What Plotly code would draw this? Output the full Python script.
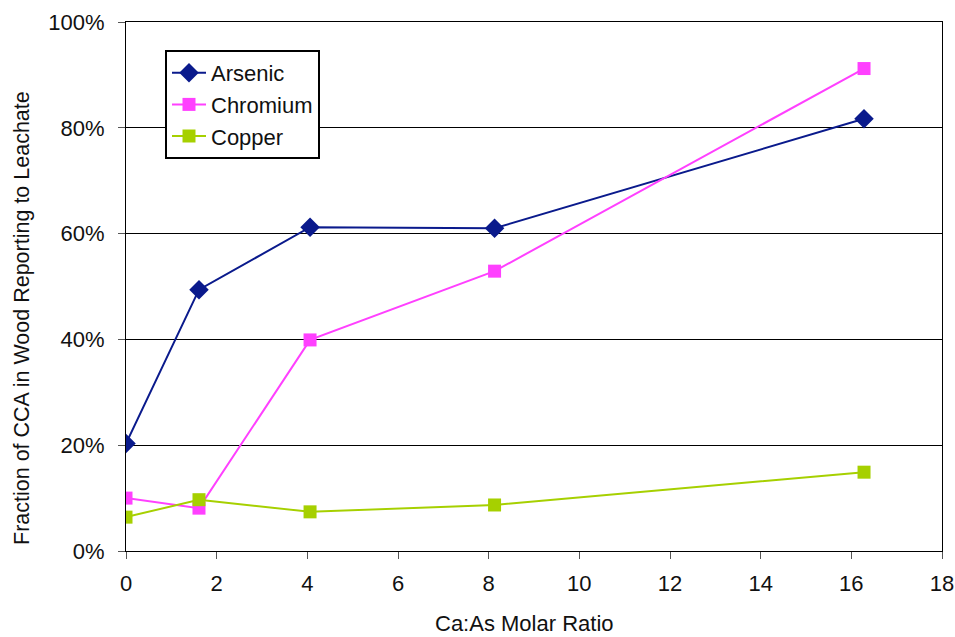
import plotly.graph_objects as go

# Ca:As molar ratio of each test
ratio = [0.0, 1.61, 4.06, 8.13, 16.28]

# Fraction of each CCA component reporting to leachate (%)
arsenic = [20.3, 49.4, 61.2, 61.0, 81.7]
chromium = [10.0, 8.1, 39.9, 52.9, 91.2]
copper = [6.4, 9.7, 7.4, 8.7, 14.9]

x_ticks = [0, 2, 4, 6, 8, 10, 12, 14, 16, 18]
y_ticks = [0, 20, 40, 60, 80, 100]
y_labels = [f"{v}%" for v in y_ticks]

x_title = "Ca:As Molar Ratio"
y_title = "Fraction of CCA in Wood Reporting to Leachate"

FONT = "Liberation Sans, Arial, sans-serif"
W, H = 955, 637
L, R, T, B = 126, 13, 22, 86

fig = go.Figure()
series = [
    ("Arsenic", arsenic, "#0A1A8C", "diamond", 15),
    ("Chromium", chromium, "#FF40FF", "square", 13),
    ("Copper", copper, "#A6D000", "square", 13),
]
for name, vals, color, sym, size in series:
    fig.add_trace(go.Scatter(
        x=ratio, y=vals, name=name, mode="lines+markers",
        line=dict(color=color, width=2),
        marker=dict(symbol=sym, size=size, color=color, line=dict(width=0)),
        legendgroup=name,
    ))

pw, ph = W - L - R, H - T - B

# Axis titles placed as annotations (paper coords relative to the plot area)
fig.add_annotation(
    text=x_title, xref="paper", yref="paper",
    x=(524 - L) / pw, y=-(623 - (H - B)) / ph,
    xanchor="center", yanchor="middle", showarrow=False,
    font=dict(family=FONT, size=22, color="#111111"),
)
fig.add_annotation(
    text=y_title, xref="paper", yref="paper", textangle=-90,
    x=-(L - 22) / pw, y=((H - B) - 318) / ph,
    xanchor="center", yanchor="middle", showarrow=False,
    font=dict(family=FONT, size=21.5, color="#111111"),
)

fig.update_layout(
    width=W, height=H,
    margin=dict(l=L, r=R, t=T, b=B),
    paper_bgcolor="white", plot_bgcolor="white",
    font=dict(family=FONT, size=22, color="#111111"),
    showlegend=True,
    legend=dict(
        x=(165 - L) / pw, y=((H - B) - 50) / ph, xanchor="left", yanchor="top",
        bordercolor="black", borderwidth=2, bgcolor="white",
        font=dict(family=FONT, size=22, color="#111111"),
        traceorder="grouped", tracegroupgap=0,
        itemwidth=34,
    ),
    xaxis=dict(
        range=[0, 18], tickvals=x_ticks, showgrid=False,
        showline=True, linecolor="black", linewidth=1, mirror=True,
        ticks="outside", ticklen=7, tickcolor="#555555",
        zeroline=False, automargin=False, ticklabelstandoff=6,
        tickfont=dict(size=22),
    ),
    yaxis=dict(
        range=[0, 100], tickvals=y_ticks, ticktext=y_labels,
        showgrid=True, gridcolor="black", gridwidth=1,
        showline=True, linecolor="black", linewidth=1, mirror=True,
        ticks="outside", ticklen=7, tickcolor="#555555",
        zeroline=False, automargin=False, ticklabelstandoff=9,
        tickfont=dict(size=22),
    ),
)

fig.write_html("out.html")
